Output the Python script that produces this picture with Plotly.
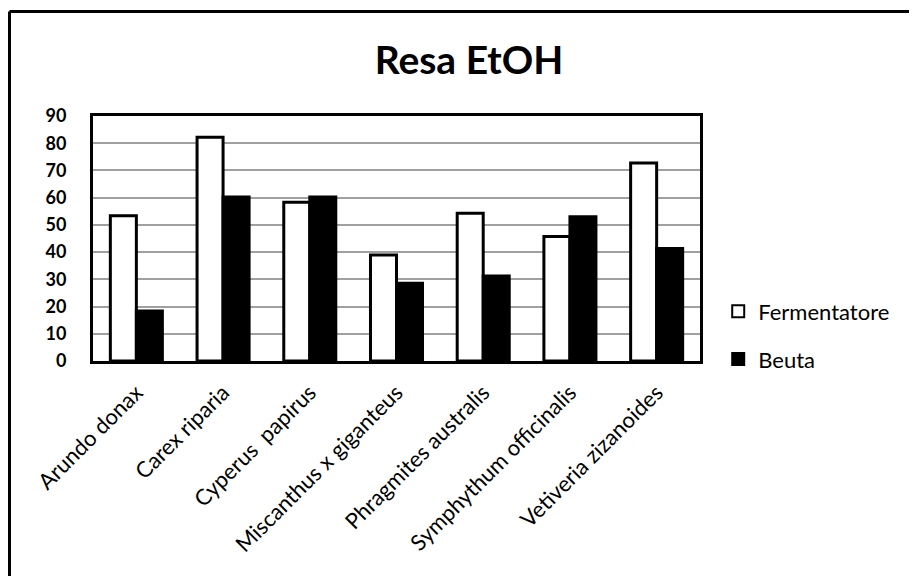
import plotly.graph_objects as go

categories = ["Arundo donax", "Carex riparia", "Cyperus  papirus", "Miscanthus x giganteus",
              "Phragmites australis", "Symphythum officinalis", "Vetiveria zizanoides"]
fermentatore = [53.4, 82.2, 58.3, 38.9, 54.3, 45.7, 72.7]
beuta = [18.4, 60.2, 60.2, 28.6, 31.2, 53.0, 41.3]
y_ticks = [0, 10, 20, 30, 40, 50, 60, 70, 80, 90]

FONT = "Lato, 'Open Sans', sans-serif"

W, H = 909, 568          # page body has an 8px margin
L, T, PW, PH = 85, 108, 607, 245

fig = go.Figure()
fig.add_trace(go.Bar(name="Fermentatore", x=categories, y=fermentatore, legendgroup="f",
                     marker=dict(color="white", line=dict(color="black", width=3))))
fig.add_trace(go.Bar(name="Beuta", x=categories, y=beuta, legendgroup="b",
                     marker=dict(color="black", line=dict(color="black", width=3))))

fig.update_layout(
    width=W, height=H,
    paper_bgcolor="white", plot_bgcolor="white",
    margin=dict(l=L, r=W - L - PW, t=T, b=H - T - PH),
    barmode="group", bargap=0.4, bargroupgap=0,
    font=dict(family=FONT, color="black"),
    title=dict(text="<b>Resa EtOH</b>", x=461 / W, xanchor="center", y=1 - 52 / H, yanchor="middle",
               font=dict(size=39, family=FONT, color="black")),
    legend=dict(x=1.03, xanchor="left", y=0.104, yanchor="middle",
                font=dict(size=22, family=FONT, color="black"),
                traceorder="grouped", tracegroupgap=16,
                itemsizing="constant", bgcolor="rgba(0,0,0,0)"),
    showlegend=True,
)
fig.update_yaxes(range=[0, 90], tickvals=y_ticks, ticktext=[f"<b>{v}</b>" for v in y_ticks],
                 tickfont=dict(size=18, family=FONT, color="black"),
                 showgrid=True, gridcolor="#a0a0a0", gridwidth=1.5,
                 showline=True, linecolor="black", linewidth=3, mirror=True,
                 ticks="", ticklabelstandoff=20, zeroline=False)
fig.update_xaxes(tickangle=-45, tickfont=dict(size=22, family=FONT, color="black"),
                 showline=True, linecolor="black", linewidth=3, mirror=True,
                 ticks="", ticklabelstandoff=7, showgrid=False)

# outer chart frame (only left and top edges visible in the crop)
fx = -(L - 1.5) / PW
fy = 1 + (T - 3.5) / PH
fig.add_shape(type="line", xref="paper", yref="paper", x0=fx, x1=(W - L) / PW, y0=fy, y1=fy,
              line=dict(color="black", width=3))
fig.add_shape(type="line", xref="paper", yref="paper", x0=fx, x1=fx, y0=fy, y1=-(H - T - PH) / PH,
              line=dict(color="black", width=3))

fig.write_html("out.html")
